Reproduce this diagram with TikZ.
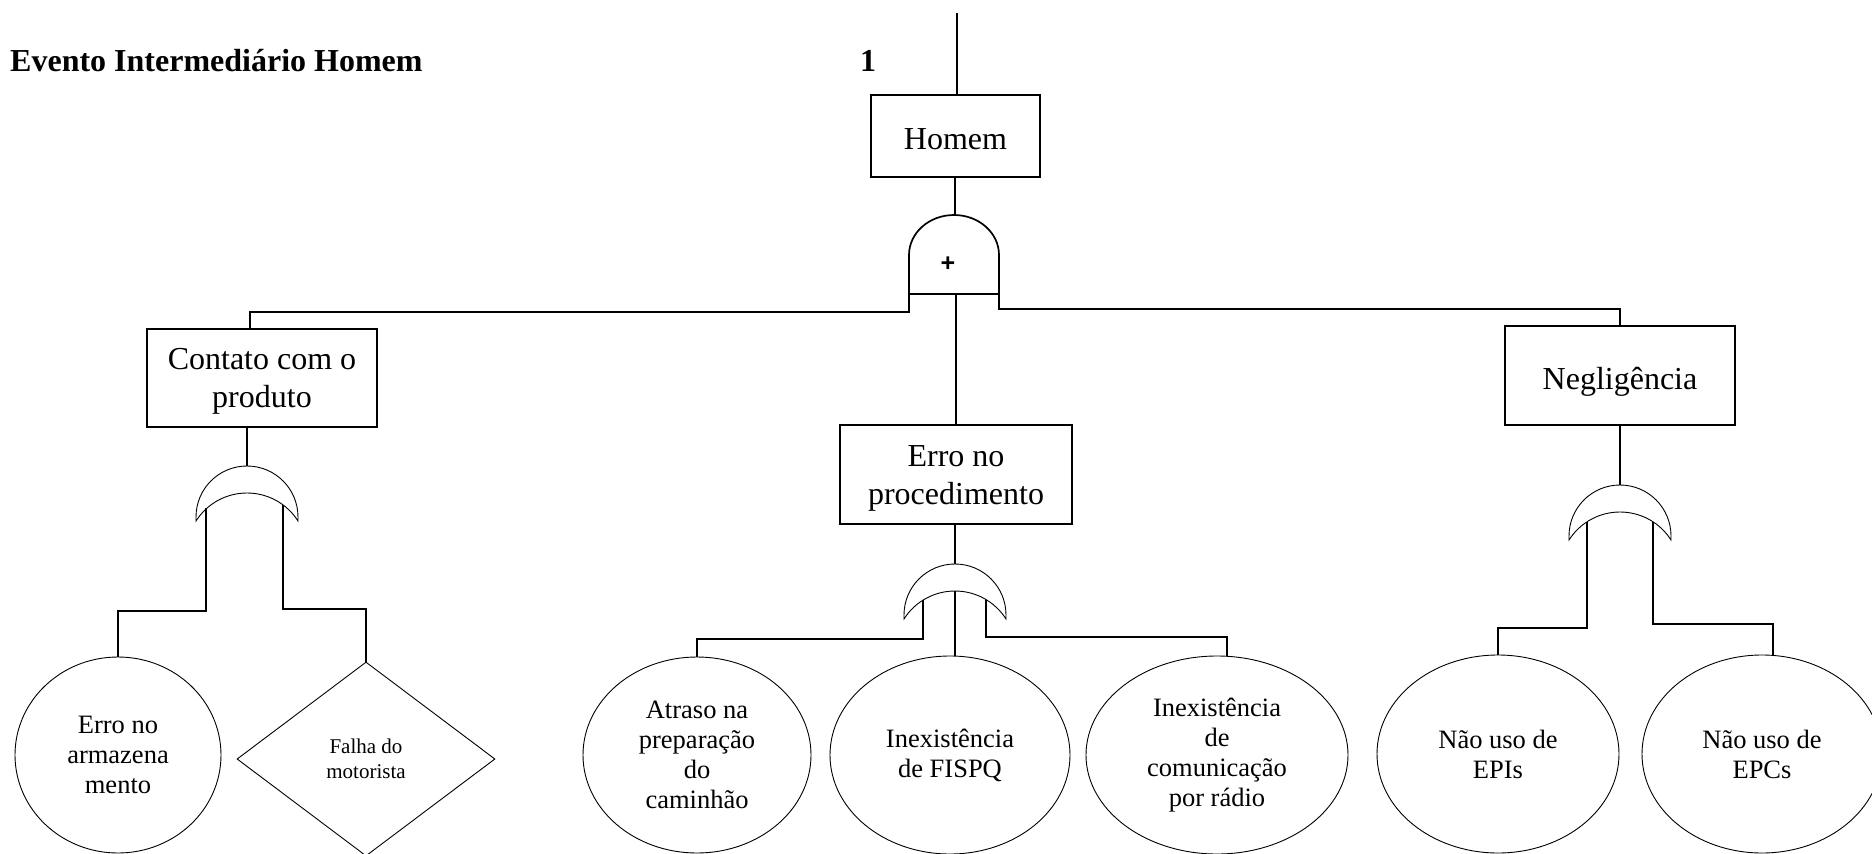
\documentclass[tikz,border=0pt]{standalone}
\usepackage{fontspec}
\setmainfont{Liberation Serif}
\setsansfont{Liberation Sans}
\usetikzlibrary{shapes.geometric}

% taller first line, so two-line box labels sit a little lower
\newcommand{\firstlinestrut}{\rule{0pt}{28pt}}

\tikzset{
  box/.style={draw, line width=1.7pt, rectangle, inner sep=0pt, align=center,
    font=\fontsize{32}{38}\selectfont},
  oneline/.style={text height=27pt, text depth=0pt},
  leaf/.style={draw, line width=0.9pt, ellipse, inner sep=0pt, align=center,
    font=\fontsize{26.5}{30}\selectfont},
  cond/.style={draw, line width=0.9pt, diamond, inner sep=0pt, align=center,
    font=\fontsize{21}{25}\selectfont},
  wire/.style={line width=1.7pt},
  gateline/.style={line width=0.9pt},
  heading/.style={inner sep=0pt, font=\fontsize{32}{36}\selectfont\bfseries},
  % OR gate: crescent, origin at its top point
  orgate/.pic={
    \coordinate (-top) at (0,0);
    \draw[gateline] (-51,55) -- (-51,51)
      .. controls (-51,22.8) and (-28.2,0) .. (0,0)
      .. controls (28.2,0) and (51,22.8) .. (51,51) -- (51,55)
      .. controls (39.9,37.5) and (20.7,27) .. (0,27)
      .. controls (-20.7,27) and (-39.9,37.5) .. (-51,55) -- cycle;
  }
}

\begin{document}
\begin{tikzpicture}[x=1pt, y=-1pt]
\useasboundingbox (0,0) rectangle (1872,854);
\fill[white] (0,0) rectangle (1872,854);

% headings
\node[heading, anchor=base west] (title) at (10,71) {Evento Intermediário Homem};
\node[heading, anchor=base] (num) at (868,71) {1};

% events
\node[box, oneline, minimum width=169pt, minimum height=82pt] (homem) at (955.5,136) {Homem};
\node[box, minimum width=230pt, minimum height=98pt] (contato) at (262,378) {\firstlinestrut Contato com o\\produto};
\node[box, minimum width=232pt, minimum height=99pt] (erro) at (956,474.5) {\firstlinestrut Erro no\\procedimento};
\node[box, oneline, minimum width=230pt, minimum height=99pt] (neg) at (1620,375.5) {Negligência};

% basic events
\node[leaf, minimum width=206pt, minimum height=196pt] (c1) at (118,755) {Erro no\\armazena\\mento};
\node[cond, minimum width=258pt, minimum height=194pt] (d1) at (366,759) {Falha do\\motorista};
\node[leaf, minimum width=228pt, minimum height=196pt] (e1) at (697,755) {Atraso na\\preparação\\do\\caminhão};
\node[leaf, minimum width=240pt, minimum height=198pt] (e2) at (950,755) {Inexistência\\de FISPQ};
\node[leaf, minimum width=262pt, minimum height=198pt] (e3) at (1217,755) {Inexistência\\de\\comunicação\\por rádio};
\node[leaf, minimum width=242pt, minimum height=198pt] (e4) at (1498,754) {Não uso de\\EPIs};
\node[leaf, minimum width=240pt, minimum height=198pt] (e5) at (1762,754) {Não uso de\\EPCs};

% AND gate under "Homem"
\draw[wire] (909,294) -- (909,255)
  .. controls (909,232.9) and (929.1,215) .. (954,215)
  .. controls (978.9,215) and (999,232.9) .. (999,255) -- (999,294) -- cycle;
\node[font=\fontsize{25}{25}\sffamily\bfseries, inner sep=0pt] (plus) at (948,264) {+};
\coordinate (andtop) at (955,215);
\coordinate (andbot) at (956,294);
\coordinate (andl) at (909,272);
\coordinate (andr) at (999,272);

% OR gates
\pic (g1) at (247,466) {orgate};
\pic (g2) at (955,564) {orgate};
\pic (g3) at (1620,485) {orgate};

% gate input legs
\coordinate (g1a) at (206,508);
\coordinate (g1b) at (283,505);
\coordinate (g2a) at (923,600);
\coordinate (g2c) at (955,591);
\coordinate (g2b) at (986,600);
\coordinate (g3a) at (1587,522);
\coordinate (g3b) at (1653,522);

% connectors
\coordinate (root) at (957,13);
\draw[wire] (root) -- (root |- homem.north);
\draw[wire] (homem.south -| andtop) -- (andtop);
\draw[wire] (andbot) -- (andbot |- erro.north);
\draw[wire] (andl) -- ++(0,40) -| ([xshift=-12pt]contato.north);
\draw[wire] (andr) -- ++(0,37) -| (neg.north);

\draw[wire] (contato.south -| g1-top) -- (g1-top);
\draw[wire] (erro.south -| g2-top) -- (g2-top);
\draw[wire] (neg.south -| g3-top) -- (g3-top);

\draw[wire] (g1a) -- ++(0,103) -| (c1.north);
\draw[wire] (g1b) -- ++(0,104) -| (d1.north);
\draw[wire] (g2a) -- ++(0,39) -| (e1.north);
\draw[wire] (g2c) -- (g2c |- e2.north);
\draw[wire] (g2b) -- ++(0,37) -| ([xshift=10pt]e3.north);
\draw[wire] (g3a) -- ++(0,106) -| (e4.north);
\draw[wire] (g3b) -- ++(0,102) -| ([xshift=11pt]e5.north);
\end{tikzpicture}
\end{document}
